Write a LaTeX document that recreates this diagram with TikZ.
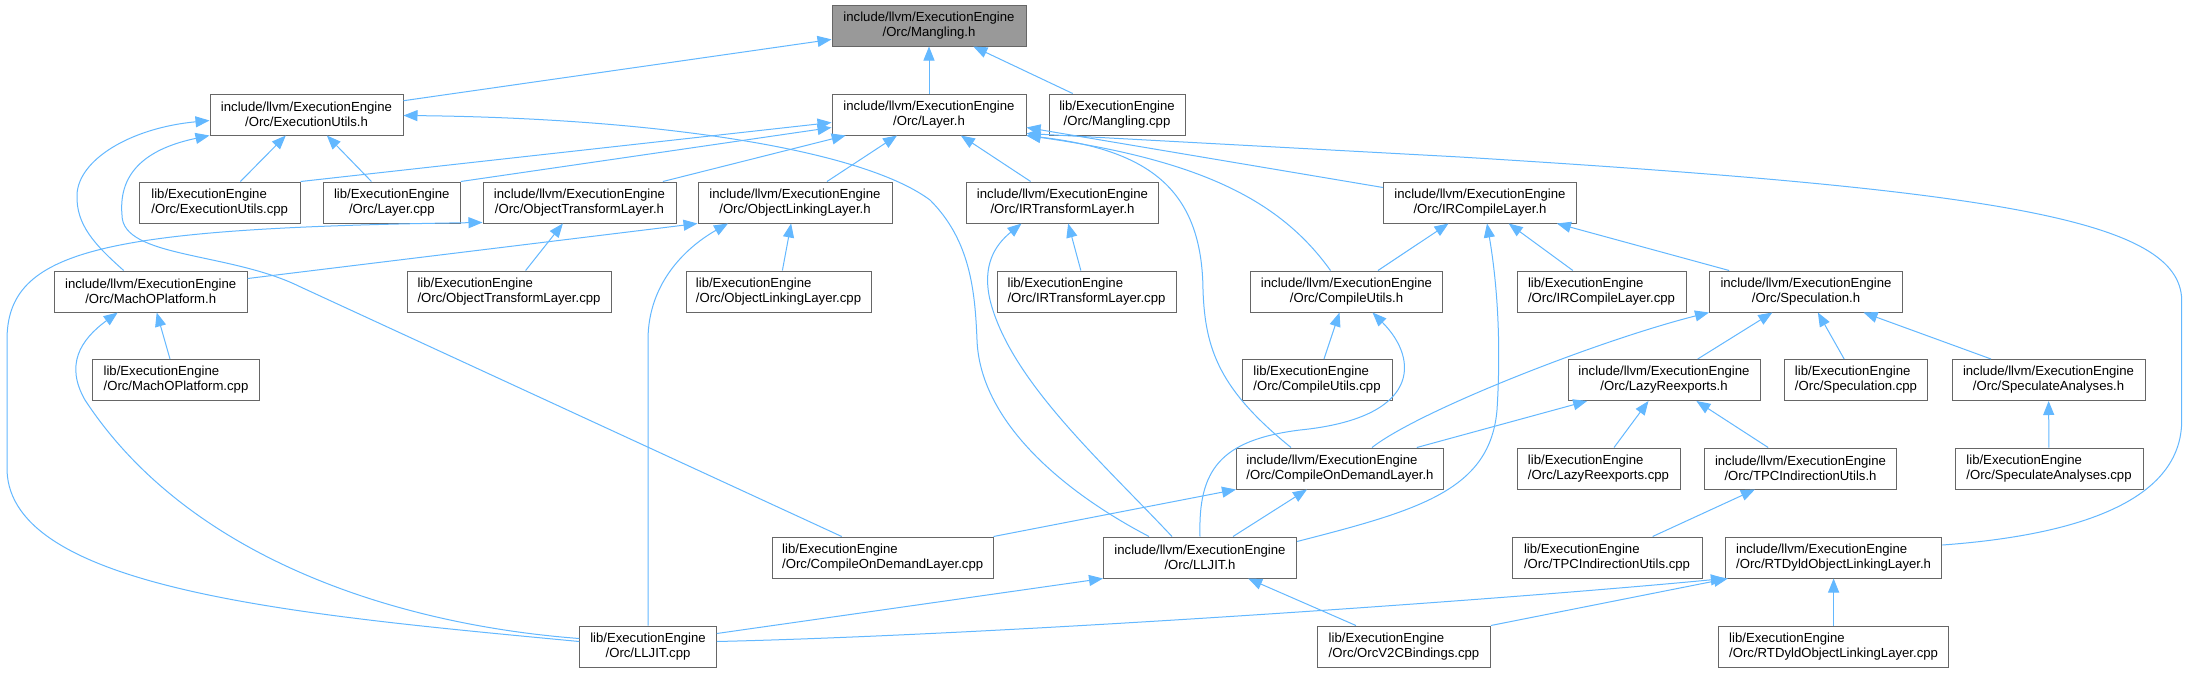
\documentclass[tikz,border=0pt]{standalone}
\usepackage{fontspec}
\setmainfont{Liberation Sans}
\usetikzlibrary{arrows.meta,calc}
\definecolor{edgeblue}{HTML}{63B8FF}
\definecolor{boxgray}{HTML}{666666}
\definecolor{rootgray}{HTML}{999999}
\tikzset{
  box/.style={draw=boxgray, fill=white, line width=1pt, minimum height=41pt, inner sep=0pt,
    font=\fontsize{13.15}{15}\selectfont, text=black},
  hc/.style={box, align=center},
  hl/.style={box, align=left},
  root/.style={hc, fill=rootgray},
  dep/.style={draw=edgeblue, line width=1pt, -{Triangle[length=14pt,width=11pt]}},
}
\begin{document}
\begin{tikzpicture}[x=1pt,y=-1pt]
\fill[white] (0,0) rectangle (2189,672);
\useasboundingbox (0,0) rectangle (2189,672);
% row 0
\node[root, minimum width=194pt] (mangH) at (929,25.5) {include/llvm/ExecutionEngine\\/Orc/Mangling.h};
% row 1
\node[hc, minimum width=193pt] (euH) at (306.5,114.5) {include/llvm/ExecutionEngine\\/Orc/ExecutionUtils.h};
\node[hc, minimum width=194pt] (layerH) at (929,114.5) {include/llvm/ExecutionEngine\\/Orc/Layer.h};
\node[hc, minimum width=136pt] (mangCpp) at (1117,114.5) {lib/ExecutionEngine\\/Orc/Mangling.cpp};
% row 2
\node[hl, minimum width=161pt] (euCpp) at (219.7,202.5) {lib/ExecutionEngine\\/Orc/ExecutionUtils.cpp};
\node[hc, minimum width=137pt] (layerCpp) at (391.8,202.5) {lib/ExecutionEngine\\/Orc/Layer.cpp};
\node[hc, minimum width=193pt] (otlH) at (579.5,202.5) {include/llvm/ExecutionEngine\\/Orc/ObjectTransformLayer.h};
\node[hc, minimum width=194pt] (ollH) at (795,202.5) {include/llvm/ExecutionEngine\\/Orc/ObjectLinkingLayer.h};
\node[hc, minimum width=192pt] (irtlH) at (1062.5,202.5) {include/llvm/ExecutionEngine\\/Orc/IRTransformLayer.h};
\node[hc, minimum width=193pt] (irclH) at (1480,202.5) {include/llvm/ExecutionEngine\\/Orc/IRCompileLayer.h};
% row 3
\node[hc, minimum width=193pt] (machoH) at (150.7,291.5) {include/llvm/ExecutionEngine\\/Orc/MachOPlatform.h};
\node[hl, minimum width=204pt] (otlCpp) at (509,291.5) {lib/ExecutionEngine\\/Orc/ObjectTransformLayer.cpp};
\node[hl, minimum width=185pt] (ollCpp) at (778.5,291.5) {lib/ExecutionEngine\\/Orc/ObjectLinkingLayer.cpp};
\node[hl, minimum width=179pt] (irtlCpp) at (1086.5,291.5) {lib/ExecutionEngine\\/Orc/IRTransformLayer.cpp};
\node[hc, minimum width=192.5pt] (cuH) at (1346.5,291.5) {include/llvm/ExecutionEngine\\/Orc/CompileUtils.h};
\node[hl, minimum width=169pt] (irclCpp) at (1601.5,291.5) {lib/ExecutionEngine\\/Orc/IRCompileLayer.cpp};
\node[hc, minimum width=193pt] (specH) at (1806,291.5) {include/llvm/ExecutionEngine\\/Orc/Speculation.h};
% row 4
\node[hl, minimum width=166.6pt] (machoCpp) at (176,380) {lib/ExecutionEngine\\/Orc/MachOPlatform.cpp};
\node[hl, minimum width=150pt] (cuCpp) at (1317,380) {lib/ExecutionEngine\\/Orc/CompileUtils.cpp};
\node[hc, minimum width=192pt] (lazyH) at (1664,380) {include/llvm/ExecutionEngine\\/Orc/LazyReexports.h};
\node[hl, minimum width=143.5pt] (specCpp) at (1856,380) {lib/ExecutionEngine\\/Orc/Speculation.cpp};
\node[hc, minimum width=193pt] (saH) at (2048.5,380) {include/llvm/ExecutionEngine\\/Orc/SpeculateAnalyses.h};
% row 5
\node[hl, minimum width=207pt] (codlH) at (1340,468.5) {include/llvm/ExecutionEngine\\/Orc/CompileOnDemandLayer.h};
\node[hl, minimum width=163pt] (lazyCpp) at (1598.5,468.5) {lib/ExecutionEngine\\/Orc/LazyReexports.cpp};
\node[hc, minimum width=192pt] (tpcH) at (1800.5,468.5) {include/llvm/ExecutionEngine\\/Orc/TPCIndirectionUtils.h};
\node[hl, minimum width=188pt] (saCpp) at (2049,468.5) {lib/ExecutionEngine\\/Orc/SpeculateAnalyses.cpp};
% row 6
\node[hl, minimum width=220.6pt] (codlCpp) at (882.7,557.5) {lib/ExecutionEngine\\/Orc/CompileOnDemandLayer.cpp};
\node[hc, minimum width=193pt] (lljitH) at (1200,557.5) {include/llvm/ExecutionEngine\\/Orc/LLJIT.h};
\node[hl, minimum width=190pt] (tpcCpp) at (1607,557.5) {lib/ExecutionEngine\\/Orc/TPCIndirectionUtils.cpp};
\node[hl, minimum width=216.5pt] (rtdH) at (1833.6,557.5) {include/llvm/ExecutionEngine\\/Orc/RTDyldObjectLinkingLayer.h};
% row 7
\node[hc, minimum width=136.5pt] (lljitCpp) at (648,646.5) {lib/ExecutionEngine\\/Orc/LLJIT.cpp};
\node[hl, minimum width=172.7pt] (orcCpp) at (1404,646.5) {lib/ExecutionEngine\\/Orc/OrcV2CBindings.cpp};
\node[hl, minimum width=230.5pt] (rtdCpp) at (1833.6,646.5) {lib/ExecutionEngine\\/Orc/RTDyldObjectLinkingLayer.cpp};

% ---- edges (arrow at the included header) ----
\draw[dep] (euH) -- (mangH);
\draw[dep] (layerH) -- (mangH);
\draw[dep] (mangCpp) -- (mangH);

\draw[dep] (euCpp) -- (euH);
\draw[dep] (layerCpp) -- (euH);
\draw[dep] ($(machoH.north)+(-27,0)$) .. controls (95,245) and (76,225) .. (77,195)
  .. controls (78,160) and (130,128) .. ($(euH.west)+(0,6)$);
\draw[dep] ($(codlCpp.north)+(-41,0)$) -- (300,286.7) .. controls (230,252) and (122,258) .. (122,215)
  .. controls (118,170) and (150,148) .. (euH.south west);
\draw[dep] ($(lljitH.north)+(-51,0)$) .. controls (1060,490) and (980,420) .. (977,340)
  .. controls (975,290) and (970,240) .. (930,200)
  .. controls (860,148) and (650,118) .. ($(euH.east)+(0,1)$);

\draw[dep] (euCpp.north east) -- ($(layerH.west)+(0,8)$);
\draw[dep] (layerCpp.north east) -- ($(layerH.west)+(0,13)$);
\draw[dep] (otlH) -- (layerH);
\draw[dep] (ollH) -- (layerH);
\draw[dep] (irtlH) -- (layerH);
\draw[dep] ($(codlH.north)+(-49,0)$) .. controls (1220,390) and (1205,350) .. (1203,290)
  .. controls (1202,190) and (1150,150) .. (layerH.south east);
\draw[dep] ($(cuH.north)+(-16,0)$) .. controls (1280,200) and (1200,160) .. (layerH.south east);
\draw[dep] ($(irclH.north west)+(0,6)$) -- ($(layerH.east)+(0,13)$);
\draw[dep] ($(rtdH.east)+(0,-12.5)$) .. controls (2080,535) and (2182,500) .. (2181.7,420)
  -- (2181.7,300) .. controls (2180,220) and (2000,190) .. (1460,157)
  -- ($(layerH.east)+(0,19)$);

\draw[dep] (otlCpp) -- (otlH);
\draw[dep] ($(lljitCpp.west)+(0,-5)$) .. controls (300,615) and (10,590) .. (7,470)
  -- (7,340) .. controls (7,250) and (100,228) .. ($(otlH.south west)+(0,-1)$);

\draw[dep] ($(machoH.north east)+(0,8)$) -- (ollH.south west);
\draw[dep] (ollCpp) -- (ollH);
\draw[dep] (lljitCpp.north) -- (648,340) .. controls (648,280) and (690,245) .. ($(ollH.south)+(-67,0)$);

\draw[dep] (machoCpp) -- (machoH);
\draw[dep] ($(lljitCpp.west)+(0,-8)$) .. controls (400,625) and (190,560) .. (85,400)
  .. controls (65,365) and (80,340) .. ($(machoH.south)+(-33,0)$);

\draw[dep] (irtlCpp) -- (irtlH);
\draw[dep] ($(lljitH.north)+(-28,0)$) .. controls (1100,460) and (1010,380) .. (990,300)
  .. controls (982,265) and (995,245) .. ($(irtlH.south)+(-41,0)$);

\draw[dep] (irclCpp) -- (irclH);
\draw[dep] (cuH) -- (irclH);
\draw[dep] (specH) -- (irclH);
\draw[dep] ($(lljitH.east)+(0,-16)$) .. controls (1420,510) and (1490,490) .. (1497,410)
  .. controls (1502,330) and (1495,270) .. ($(irclH.south)+(7,0)$);

\draw[dep] (cuCpp) -- (cuH);
\draw[dep] (lljitH.north) .. controls (1198,470) and (1220,440) .. (1300,430)
  .. controls (1420,418) and (1420,360) .. ($(cuH.south)+(26,0)$);

\draw[dep] (lljitH) -- (codlH);
\draw[dep] (codlCpp.north east) -- (codlH.south west);

\draw[dep] ($(codlH.north)+(32,0)$) .. controls (1420,410) and (1600,340) .. (specH.south west);
\draw[dep] (codlH) -- (lazyH);
\draw[dep] (lazyH) -- (specH);
\draw[dep] (specCpp) -- (specH);
\draw[dep] (saH) -- (specH);
\draw[dep] (saCpp) -- (saH);
\draw[dep] (lazyCpp) -- (lazyH);
\draw[dep] (tpcH) -- (lazyH);
\draw[dep] (tpcCpp) -- (tpcH);

\draw[dep] (rtdCpp) -- (rtdH);
\draw[dep] ($(lljitCpp.east)+(0,-5)$) .. controls (1000,635) and (1500,600) .. (rtdH.south west);
\draw[dep] (orcCpp.north east) -- ($(rtdH.south west)+(3,0)$);

\draw[dep] ($(lljitCpp.east)+(0,-13)$) -- (lljitH.south west);
\draw[dep] (orcCpp) -- (lljitH);
\end{tikzpicture}
\end{document}
